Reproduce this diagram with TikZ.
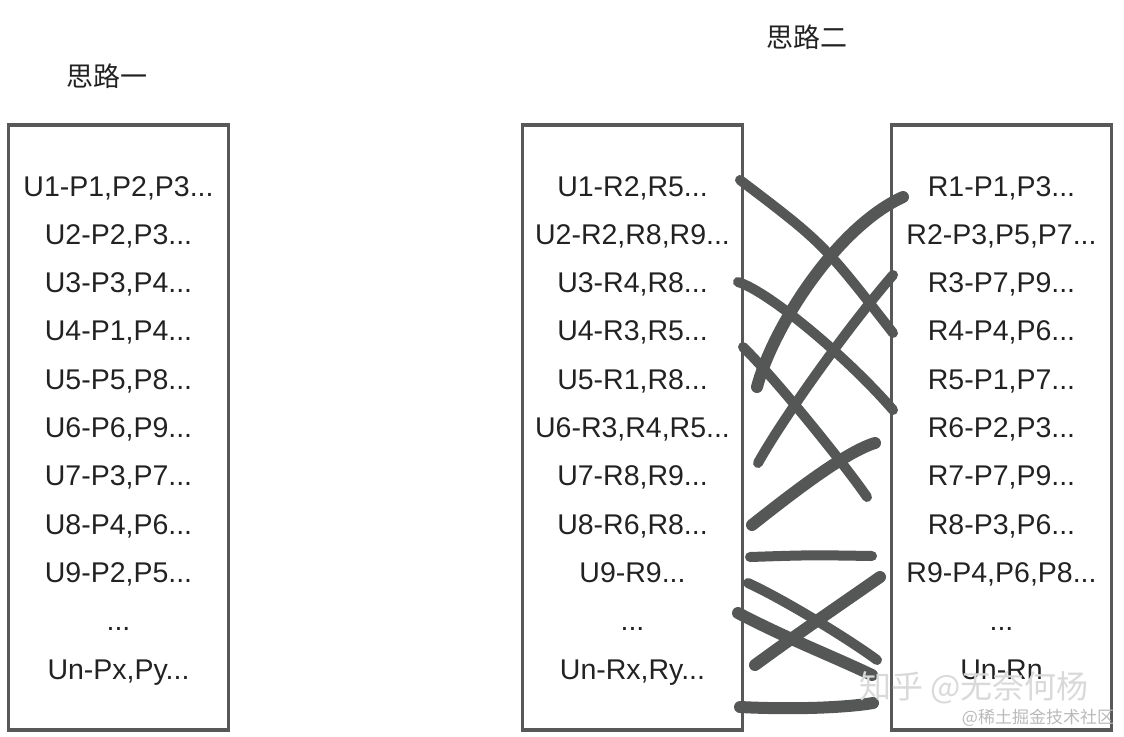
\documentclass[tikz,border=0pt]{standalone}
\usepackage{fontspec}
\setmainfont{Liberation Sans}
\newfontfamily\cjk{Noto Sans CJK SC}
\usetikzlibrary{positioning}
\usepackage{xcolor}
\definecolor{FrameGray}{RGB}{88,88,88}
\definecolor{InkGray}{RGB}{85,87,87}
\definecolor{TextDark}{RGB}{34,34,34}
\tikzset{
  listbox/.style={draw=FrameGray, line width=3.5pt, minimum width=220pt,
    minimum height=605pt, inner sep=0pt},
  item/.style={text=TextDark, font=\fontsize{28.5}{30}\selectfont,
    inner sep=0pt, text height=20.4pt, text depth=6pt},
  title/.style={text=TextDark, font=\cjk\fontsize{27}{30}\selectfont},
  brush/.style={draw=InkGray, line width=10pt, line cap=round},
  heavybrush/.style={brush, line width=12pt},
  watermark/.style={text=gray!30, font=\cjk\fontsize{32}{34}\selectfont},
  smallwatermark/.style={text=gray!55, font=\cjk\fontsize{17}{19}\selectfont}
}

\begin{document}
\begin{tikzpicture}[x=1pt, y=-1pt, node distance=21.5pt]
  \useasboundingbox (0,0) rectangle (1124,736);

  % titles
  \node[title] (titleone) at (107,76) {思路一};
  \node[title] (titletwo) at (807,37) {思路二};

  % boxes
  \node[listbox] (leftbox) at (118.5,427.5) {};
  \node[listbox] (midbox) at (632.5,427.5) {};
  \node[listbox] (rightbox) at (1001.5,427.5) {};

  % left list
  \node[item, anchor=base] (lu1) at (118.5,196) {U1-P1,P2,P3...};
  \node[item, below=of lu1] (lu2) {U2-P2,P3...};
  \node[item, below=of lu2] (lu3) {U3-P3,P4...};
  \node[item, below=of lu3] (lu4) {U4-P1,P4...};
  \node[item, below=of lu4] (lu5) {U5-P5,P8...};
  \node[item, below=of lu5] (lu6) {U6-P6,P9...};
  \node[item, below=of lu6] (lu7) {U7-P3,P7...};
  \node[item, below=of lu7] (lu8) {U8-P4,P6...};
  \node[item, below=of lu8] (lu9) {U9-P2,P5...};
  \node[item, below=of lu9] (ldots) {...};
  \node[item, below=of ldots] (lun) {Un-Px,Py...};

  % middle list
  \node[item, anchor=base] (mu1) at (632.5,196) {U1-R2,R5...};
  \node[item, below=of mu1] (mu2) {U2-R2,R8,R9...};
  \node[item, below=of mu2] (mu3) {U3-R4,R8...};
  \node[item, below=of mu3] (mu4) {U4-R3,R5...};
  \node[item, below=of mu4] (mu5) {U5-R1,R8...};
  \node[item, below=of mu5] (mu6) {U6-R3,R4,R5...};
  \node[item, below=of mu6] (mu7) {U7-R8,R9...};
  \node[item, below=of mu7] (mu8) {U8-R6,R8...};
  \node[item, below=of mu8] (mu9) {U9-R9...};
  \node[item, below=of mu9] (mdots) {...};
  \node[item, below=of mdots] (mun) {Un-Rx,Ry...};

  % right list
  \node[item, anchor=base] (r1) at (1001.5,196) {R1-P1,P3...};
  \node[item, below=of r1] (r2) {R2-P3,P5,P7...};
  \node[item, below=of r2] (r3) {R3-P7,P9...};
  \node[item, below=of r3] (r4) {R4-P4,P6...};
  \node[item, below=of r4] (r5) {R5-P1,P7...};
  \node[item, below=of r5] (r6) {R6-P2,P3...};
  \node[item, below=of r6] (r7) {R7-P7,P9...};
  \node[item, below=of r7] (r8) {R8-P3,P6...};
  \node[item, below=of r8] (r9) {R9-P4,P6,P8...};
  \node[item, below=of r9] (rdots) {...};
  \node[item, below=of rdots] (rn) {Un-Rn};

  % hand drawn links
  \coordinate (a1) at (740,180);  \coordinate (a2) at (893,333);
  \coordinate (b1) at (757,387);  \coordinate (b2) at (903,197);
  \coordinate (c1) at (738,282);  \coordinate (c2) at (893,410);
  \coordinate (d1) at (893,275);  \coordinate (d2) at (758,463);
  \coordinate (e1) at (743,347);  \coordinate (e2) at (867,497);
  \coordinate (f1) at (752,525);  \coordinate (f2) at (875,443);
  \coordinate (g1) at (750,557);  \coordinate (g2) at (872,556);
  \coordinate (h1) at (748,583);  \coordinate (h2) at (877,660);
  \coordinate (i1) at (755,665);  \coordinate (i2) at (880,577);
  \coordinate (j1) at (738,613);  \coordinate (j2) at (872,675);
  \coordinate (k1) at (740,707);  \coordinate (k2) at (873,703);
  \draw[brush] (a1) .. controls (823,243) .. (a2);
  \draw[heavybrush] (b1) .. controls (772,330) and (835,228) .. (b2);
  \draw[brush] (c1) .. controls (770,292) and (850,360) .. (c2);
  \draw[brush] (d1) .. controls (848,327) and (783,418) .. (d2);
  \draw[brush] (e1) .. controls (775,378) and (845,465) .. (e2);
  \draw[heavybrush] (f1) .. controls (790,495) and (845,452) .. (f2);
  \draw[brush] (g1) .. controls (810,555) .. (g2);
  \draw[brush] (h1) .. controls (785,600) and (850,640) .. (h2);
  \draw[heavybrush] (i1) .. controls (800,632) and (840,605) .. (i2);
  \draw[heavybrush] (j1) .. controls (790,640) and (830,655) .. (j2);
  \draw[heavybrush] (k1) .. controls (800,710) and (850,707) .. (k2);

  % watermark
  \node[watermark] (zhihu) at (974,688) {知乎 @无奈何杨};
  \node[smallwatermark] (juejin) at (1038,718) {@稀土掘金技术社区};
\end{tikzpicture}
\end{document}
